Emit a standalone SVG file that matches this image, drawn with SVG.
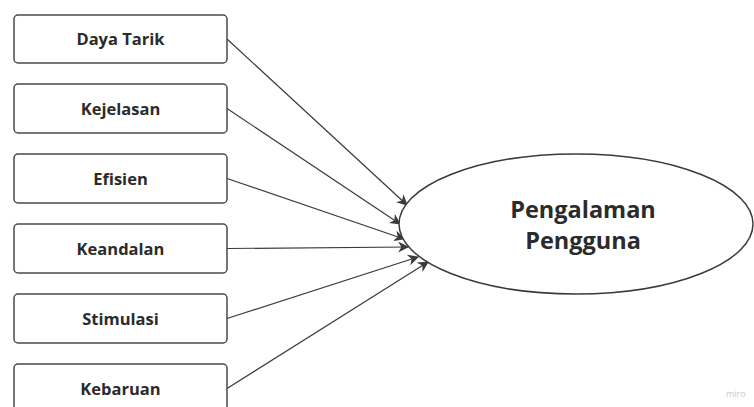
<svg xmlns="http://www.w3.org/2000/svg" width="754" height="407" viewBox="0 0 754 407">
<style>
.box{fill:#fff;stroke:#4a4a4a;stroke-width:1.5}
.lbl{font-family:"Open Sans","Noto Sans",sans-serif;font-weight:bold;font-size:16.5px;fill:#2b2b2b;text-anchor:middle}
.big{font-family:"Open Sans","Noto Sans",sans-serif;font-weight:bold;font-size:23.5px;fill:#2b2b2b;text-anchor:middle}
.con{stroke:#3a3a3a;stroke-width:1.2;fill:none;marker-end:url(#ah)}
</style>
<defs>
<marker id="ah" viewBox="0 0 10 10" refX="9" refY="5" markerWidth="11" markerHeight="11" markerUnits="userSpaceOnUse" orient="auto">
<path d="M0,0 L10,5 L0,10 L3,5 z" fill="#3a3a3a"/>
</marker>
</defs>
<rect width="754" height="407" fill="#fff"/>
<g id="connectors">
<line class="con" x1="227" y1="39" x2="407" y2="205"/>
<line class="con" x1="227" y1="108.5" x2="400" y2="224"/>
<line class="con" x1="227" y1="178.5" x2="404" y2="239"/>
<line class="con" x1="227" y1="248.5" x2="408" y2="247"/>
<line class="con" x1="227" y1="318.5" x2="418" y2="257"/>
<line class="con" x1="227" y1="388.5" x2="428" y2="262"/>
</g>
<g id="n1"><rect class="box" x="14" y="15" width="213" height="48" rx="4"/><text class="lbl" x="120.5" y="45">Daya Tarik</text></g>
<g id="n2"><rect class="box" x="14" y="84" width="213" height="49" rx="4"/><text class="lbl" x="120.5" y="114.5">Kejelasan</text></g>
<g id="n3"><rect class="box" x="14" y="154" width="213" height="49" rx="4"/><text class="lbl" x="120.5" y="184.5">Efisien</text></g>
<g id="n4"><rect class="box" x="14" y="224" width="213" height="49" rx="4"/><text class="lbl" x="120.5" y="254.5">Keandalan</text></g>
<g id="n5"><rect class="box" x="14" y="294" width="213" height="49" rx="4"/><text class="lbl" x="120.5" y="324.5">Stimulasi</text></g>
<g id="n6"><rect class="box" x="14" y="364" width="213" height="49" rx="4"/><text class="lbl" x="120.5" y="394.5">Kebaruan</text></g>
<g id="n7"><ellipse cx="576" cy="224" rx="177" ry="70" fill="#fff" stroke="#3a3a3a" stroke-width="1.5"/>
<text class="big" x="583" y="218">Pengalaman</text><text class="big" x="583" y="249">Pengguna</text></g>
<text x="726" y="397" font-family="Open Sans,sans-serif" font-size="9" fill="#c8c8d0">miro</text>
</svg>
